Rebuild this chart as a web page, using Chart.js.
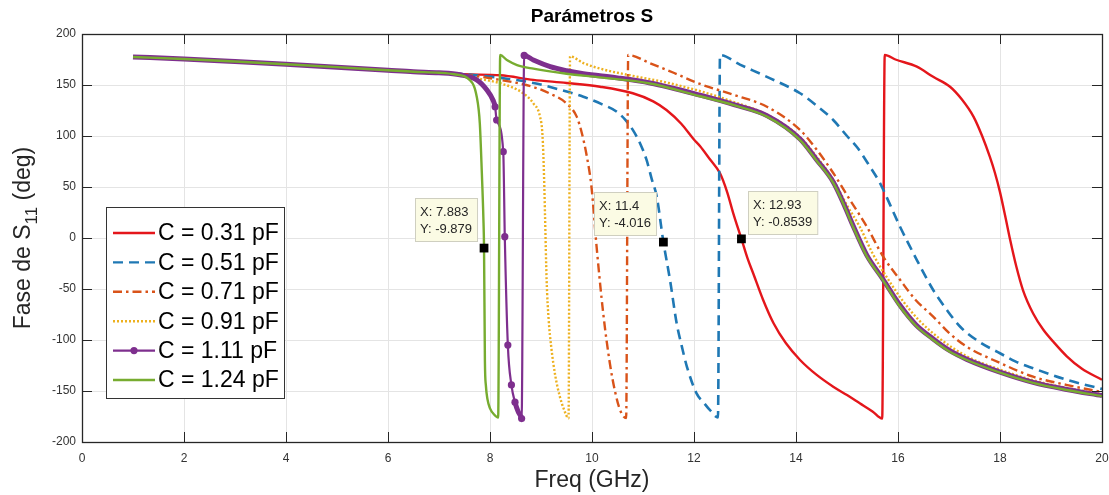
<!DOCTYPE html>
<html>
<head>
<meta charset="utf-8">
<script src="https://cdn.jsdelivr.net/npm/chart.js@4.4.1/dist/chart.umd.min.js"></script>
<style>
  html, body { margin: 0; padding: 0; background: #fff; }
</style>
</head>
<body>
<canvas id="chart" width="1109" height="495"></canvas>
<script>
const FONT = "'Liberation Sans', Arial, Helvetica, sans-serif";

// tick labels
const xTicks = [0, 2, 4, 6, 8, 10, 12, 14, 16, 18, 20];
const yTicks = [-200, -150, -100, -50, 0, 50, 100, 150, 200];

// legend names
const capLabels = ['C = 0.31 pF', 'C = 0.51 pF', 'C = 0.71 pF', 'C = 0.91 pF', 'C = 1.11 pF', 'C = 1.24 pF'];

// low-frequency part shared by every curve (GHz / deg)
const baseFreq = [1, 2, 3, 4, 5, 6, 6.5, 7];
const basePhase = [177.5, 175.5, 173, 170.3, 167.5, 164.5, 163, 162];

// C = 0.31 pF
const freq031 = [7.5, 8.2, 8.85, 9.5, 10.16, 10.8, 11.2, 11.46, 11.75, 11.99, 12.12, 12.3, 12.51, 12.65, 12.77,
  12.93, 13.05, 13.16, 13.35, 13.56, 13.8, 14.08, 14.4, 14.73, 15.0, 15.25, 15.5, 15.69, 15.74, 15.95,
  16.37, 16.69, 17.02, 17.25, 17.48, 17.65, 17.8, 17.9, 18.0, 18.1, 18.2, 18.32, 18.45, 18.65, 18.85,
  19.05, 19.31, 19.6, 20];
const phase031 = [160.5, 159.5, 155, 152, 148.3, 141.9, 134, 125.5, 112, 97, 90, 78, 63.4, 45, 24.2,
  -0.85, -20, -34.6, -60, -83.6, -103, -119.6, -134, -145.8, -154, -162, -170, -177, 179.4, 175,
  168, 158, 148.3, 136, 119, 100, 79.7, 64, 45, 22, -2, -28, -51, -74, -90,
  -102, -116, -128, -139];

// C = 0.51 pF
const freq051 = [7.5, 8.2, 8.85, 9.4, 9.83, 10.2, 10.48, 10.65, 10.8, 10.95, 11.07, 11.17, 11.27, 11.4, 11.53,
  11.66, 11.76, 11.86, 12.05, 12.2, 12.31, 12.47, 12.51, 12.9, 13.43, 14.08, 14.4, 14.73, 15.0, 15.19,
  15.45, 15.65, 15.85, 16.04, 16.2, 16.37, 16.69, 16.95, 17.22, 17.6, 18, 18.3, 18.65, 19.31, 20];
const phase051 = [160.5, 157, 152, 145, 138.5, 131, 124, 116, 106, 92, 76.5, 58, 40.5, -4.0, -41.2,
  -83.6, -106, -126, -152.3, -162, -168.6, -176, 179.4, 170, 158, 141.9, 130, 115.7, 100, 89.5,
  70, 53.6, 32, 11, -5, -21.6, -51, -70, -87, -102, -113, -121, -127.7, -139, -148];

// C = 0.71 pF
const freq071 = [7.5, 8.2, 8.85, 9.2, 9.5, 9.7, 9.8, 9.9, 9.99, 10.09, 10.22, 10.35, 10.45, 10.55, 10.67,
  10.71, 11.14, 11.6, 12.12, 12.8, 13.43, 14.08, 14.4, 14.73, 15.05, 15.39, 15.71, 16.04, 16.35, 16.69,
  17.0, 17.35, 18, 18.65, 19.3, 20];
const phase071 = [160, 155, 148, 141, 132, 119, 103, 79.7, 50, -8.5, -73.8, -122.8, -150, -168.6, -176.5,
  179.4, 171.3, 162, 151, 140, 128.7, 105.9, 87, 63.7, 38, 11, -18.3, -41, -61, -77,
  -93, -106.6, -122.5, -136, -144, -151];

// C = 0.91 pF
const freq091 = [7.5, 7.8, 8.2, 8.65, 8.85, 8.98, 9.03, 9.06, 9.08, 9.11, 9.15, 9.2, 9.28, 9.37, 9.45,
  9.54, 9.57, 9.83, 10.2, 10.8, 11.5, 12.12, 12.8, 13.43, 14.08, 14.4, 14.73, 15.0, 15.25, 15.5,
  15.8, 16.1, 16.4, 16.8, 17.35, 18, 18.65, 19.31, 20];
const phase091 = [159, 156, 151.7, 142, 132, 119, 100, 60, 20, -41, -80, -106.6, -135, -155.6, -168,
  -176.8, 178, 171.5, 165.5, 159, 152, 144, 133, 121, 99, 80, 57, 32, 11, -15,
  -40, -62, -80, -98, -116, -129, -139.5, -147, -153];

// C = 1.11 pF
const freq111 = [7.41, 7.74, 7.94, 8.06, 8.1, 8.13, 8.26, 8.29, 8.35, 8.42, 8.49, 8.55, 8.6, 8.62, 8.67,
  8.85, 9.18, 9.5, 9.83, 10.5, 11.14, 12.12, 12.8, 13.43, 14.08, 14.4, 14.73, 14.95, 15.12, 15.39,
  15.7, 16.04, 16.35, 16.69, 17.0, 17.35, 18, 18.65, 19.31, 20];
const phase111 = [160, 155, 145, 135, 128.7, 115.7, 84.6, 1.3, -105, -144, -161, -170, -174.5, -177, 179,
  174.5, 168, 164, 161, 157, 152, 140, 130.5, 120, 97, 77, 55, 32, 12, -17,
  -40, -66, -85, -99, -110, -119, -131.5, -141.5, -148.5, -154.5];

// C = 1.24 pF
const freq124 = [7.3, 7.6, 7.74, 7.8, 7.84, 7.87, 7.883, 7.9, 7.92, 7.95, 8.0, 8.08, 8.16, 8.2, 8.33,
  8.53, 8.85, 9.5, 10.16, 11.14, 12.12, 12.8, 13.43, 14.08, 14.4, 14.73, 14.95, 15.12, 15.39, 15.7,
  16.04, 16.35, 16.69, 17.0, 17.35, 18, 18.65, 19.31, 20];
const phase124 = [160.5, 155, 138.5, 112.5, 63.7, 20, -9.879, -120, -145, -158, -167, -173, -176, 179.4, 174.5,
  169.6, 166, 161, 157.5, 151.5, 139, 130, 119, 96, 76, 54, 31, 10.8, -18.3, -41,
  -67.4, -86, -100, -111, -119.6, -132, -142, -149, -155];

// data tips
const tipFreq = [7.883, 11.4, 12.93];
const tipPhase = [-9.879, -4.016, -0.8539];

function pairs(xs, ys) {
  const allX = baseFreq.concat(xs), allY = basePhase.concat(ys);
  return allX.map((x, i) => ({ x: x, y: allY[i] }));
}

function steepPx(dx, dy) {
  return Math.abs(dy) > 12 && Math.abs(dy) > 4 * Math.abs(dx);
}

function purpleDot(ctx) {
  const data = ctx.dataset.data, i = ctx.dataIndex;
  const sx = ctx.chart.scales.x, sy = ctx.chart.scales.y;
  if (!sx || !sy || !data[i]) return 0;
  const near = [i - 1, i + 1].some(j => {
    if (j < 0 || j >= data.length) return false;
    const dx = sx.getPixelForValue(data[j].x) - sx.getPixelForValue(data[i].x);
    const dy = sy.getPixelForValue(data[j].y) - sy.getPixelForValue(data[i].y);
    return steepPx(dx, dy);
  });
  return near ? 3.6 : 0;
}

const styles = [
  { color: '#e4161b', dash: [], width: 2.4 },
  { color: '#1f78b4', dash: [10, 6], width: 2.6 },
  { color: '#d95319', dash: [9, 4, 2.5, 4], width: 2.4 },
  { color: '#edb120', dash: [2, 2], width: 2.4 },
  { color: '#7e2f8e', dash: [], width: 2.2 },
  { color: '#77ac30', dash: [], width: 2.4 }
];

const seriesData = [
  pairs(freq031, phase031),
  pairs(freq051, phase051),
  pairs(freq071, phase071),
  pairs(freq091, phase091),
  pairs(freq111, phase111),
  pairs(freq124, phase124)
];

const datasets = seriesData.map((d, i) => {
  const st = styles[i];
  const ds = {
    label: capLabels[i],
    data: d,
    borderColor: st.color,
    backgroundColor: st.color,
    borderWidth: st.width,
    borderDash: st.dash,
    pointRadius: 0,
    cubicInterpolationMode: 'monotone',
    fill: false,
    order: 6 - i
  };
  if (i === 4) {
    ds.pointRadius = purpleDot;
    ds.pointBorderWidth = 0;
    ds.segment = {
      borderWidth: ctx => steepPx(ctx.p1.x - ctx.p0.x, ctx.p1.y - ctx.p0.y) ? 2.2 : 5
    };
  }
  return ds;
});

datasets.push({
  label: 'tips',
  data: tipFreq.map((x, i) => ({ x: x, y: tipPhase[i] })),
  showLine: false,
  pointStyle: 'rect',
  pointRadius: 6.2,
  backgroundColor: '#000',
  borderColor: '#000',
  borderWidth: 0,
  order: 0
});

// tip box placement (side of the marker)
const tipSide = ['left', 'left', 'right'];

const decor = {
  id: 'decor',
  afterDraw(chart) {
    const c = chart.ctx, a = chart.chartArea;
    const sx = chart.scales.x, sy = chart.scales.y;
    c.save();

    // frame and inward ticks
    c.strokeStyle = '#262626';
    c.lineWidth = 1;
    c.beginPath();
    xTicks.forEach(v => {
      const px = Math.round(sx.getPixelForValue(v)) + 0.5;
      c.moveTo(px, a.bottom); c.lineTo(px, a.bottom - 10);
      c.moveTo(px, a.top); c.lineTo(px, a.top + 10);
    });
    yTicks.forEach(v => {
      const py = Math.round(sy.getPixelForValue(v)) + 0.5;
      c.moveTo(a.left, py); c.lineTo(a.left + 10, py);
      c.moveTo(a.right, py); c.lineTo(a.right - 10, py);
    });
    c.stroke();
    c.lineWidth = 1.3;
    c.strokeRect(Math.round(a.left) + 0.5, Math.round(a.top) + 0.5,
      Math.round(a.right - a.left), Math.round(a.bottom - a.top));

    // title
    c.fillStyle = '#000';
    c.font = 'bold 19px ' + FONT;
    c.textAlign = 'center';
    c.textBaseline = 'middle';
    c.fillText('Parámetros S', (a.left + a.right) / 2, 17);

    // x axis title
    c.fillStyle = '#262626';
    c.font = '23px ' + FONT;
    c.fillText('Freq (GHz)', (a.left + a.right) / 2, 481);

    // y axis title with subscript
    c.save();
    c.translate(30, 238);
    c.rotate(-Math.PI / 2);
    c.textAlign = 'left';
    c.textBaseline = 'alphabetic';
    const t1 = 'Fase de S', t2 = '11', t3 = ' (deg)';
    c.font = '23px ' + FONT;
    const w1 = c.measureText(t1).width, w3 = c.measureText(t3).width;
    c.font = '17px ' + FONT;
    const w2 = c.measureText(t2).width;
    let x0 = -(w1 + w2 + w3) / 2;
    c.font = '23px ' + FONT;
    c.fillText(t1, x0, 0);
    c.font = '17px ' + FONT;
    c.fillText(t2, x0 + w1, 7);
    c.font = '23px ' + FONT;
    c.fillText(t3, x0 + w1 + w2, 0);
    c.restore();

    // legend
    const lx = 106, ly = 207, lw = 178, lh = 191;
    c.fillStyle = '#fff';
    c.fillRect(lx, ly, lw, lh);
    c.strokeStyle = '#333';
    c.lineWidth = 1;
    c.strokeRect(lx + 0.5, ly + 0.5, lw, lh);
    c.font = '23px ' + FONT;
    c.textAlign = 'left';
    c.textBaseline = 'middle';
    capLabels.forEach((lab, i) => {
      const st = styles[i];
      const y = ly + 26 + i * 29.4;
      c.strokeStyle = st.color;
      c.lineWidth = 2.4;
      c.setLineDash(st.dash);
      c.beginPath();
      c.moveTo(lx + 7, y); c.lineTo(lx + 49, y);
      c.stroke();
      c.setLineDash([]);
      if (i === 4) {
        c.fillStyle = st.color;
        c.beginPath();
        c.arc(lx + 28, y, 3.6, 0, Math.PI * 2);
        c.fill();
      }
      c.fillStyle = '#000';
      c.fillText(lab, lx + 52, y + 1);
    });

    // data tips
    c.font = '13px ' + FONT;
    tipFreq.forEach((fx, i) => {
      const mx = sx.getPixelForValue(fx), my = sy.getPixelForValue(tipPhase[i]);
      const l1 = 'X: ' + fx, l2 = 'Y: ' + tipPhase[i];
      const w = Math.max(c.measureText(l1).width, c.measureText(l2).width) + 10;
      const h = 43;
      let bx, by;
      if (tipSide[i] === 'left') { bx = mx - 7 - w; by = my - 7 - h; }
      else { bx = mx + 7; by = my - 5 - h; }
      bx = Math.round(bx); by = Math.round(by);
      c.fillStyle = '#fbfbe4';
      c.fillRect(bx, by, w, h);
      c.strokeStyle = '#cfcfc0';
      c.lineWidth = 1;
      c.strokeRect(bx + 0.5, by + 0.5, w, h);
      c.fillStyle = '#262626';
      c.fillText(l1, bx + 5, by + 14);
      c.fillText(l2, bx + 5, by + 31);
    });

    c.restore();
  }
};

new Chart(document.getElementById('chart'), {
  type: 'line',
  data: { datasets: datasets },
  options: {
    responsive: false,
    animation: false,
    layout: { padding: { top: 34, right: 0, left: 0, bottom: 0 } },
    plugins: {
      legend: { display: false },
      tooltip: { enabled: false },
      title: { display: false }
    },
    scales: {
      x: {
        type: 'linear',
        min: 0, max: 20,
        afterFit: s => { s.height = 53; s.paddingRight = 7; s.paddingLeft = 0; },
        afterBuildTicks: s => { s.ticks = xTicks.map(v => ({ value: v })); },
        ticks: { color: '#333', font: { family: FONT, size: 12 }, padding: 9, maxRotation: 0 },
        grid: { color: '#e4e4e4', drawTicks: false },
        border: { display: false }
      },
      y: {
        type: 'linear',
        min: -200, max: 200,
        afterFit: s => { s.width = 82; },
        afterBuildTicks: s => { s.ticks = yTicks.map(v => ({ value: v })); },
        ticks: { color: '#333', font: { family: FONT, size: 12 }, padding: 6 },
        grid: { color: '#e4e4e4', drawTicks: false },
        border: { display: false }
      }
    }
  },
  plugins: [decor]
});
</script>
</body>
</html>
